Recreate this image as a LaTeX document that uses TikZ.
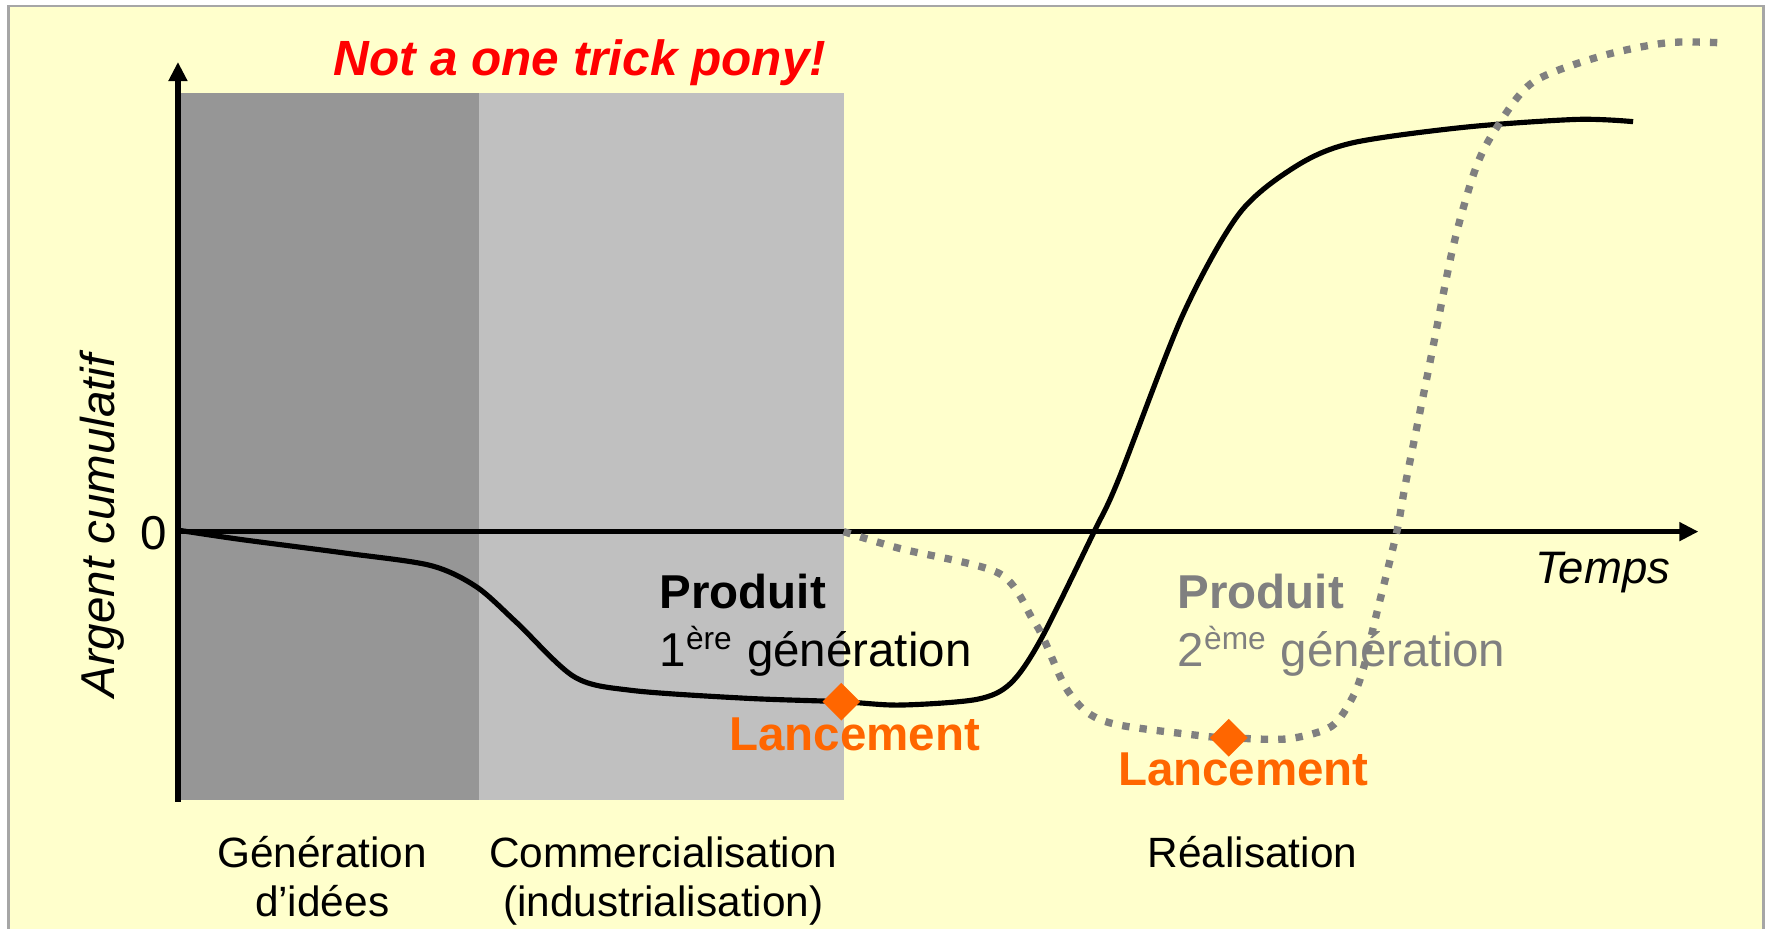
\documentclass[tikz,border=0pt]{standalone}
\usepackage{fontspec}
\setmainfont{Liberation Sans}
\usetikzlibrary{arrows.meta,shapes.geometric,positioning}

\definecolor{paper}{HTML}{FFFFCC}
\definecolor{ideas}{HTML}{969696}
\definecolor{indus}{HTML}{C0C0C0}
\definecolor{launch}{HTML}{FF6600}
\definecolor{second}{HTML}{808080}

\begin{document}
\begin{tikzpicture}[x=0.1mm,y=-0.1mm,
  every node/.style={inner sep=0pt},
  axis/.style={line width=1.35pt,-{Triangle[length=1.7mm,width=1.6mm]}},
  firstgen/.style={line width=1.3pt},
  secondgen/.style={line width=1.85pt,second,dash pattern=on 1.85pt off 2.55pt},
  launchmark/.style={diamond,fill=launch,minimum size=3.4mm},
  launchtext/.style={launch,font=\fontsize{12}{14}\selectfont\bfseries},
  prodtext/.style={font=\fontsize{12}{14}\selectfont\bfseries},
  gentext/.style={font=\fontsize{12}{14}\selectfont},
  phasetext/.style={font=\fontsize{10.7}{12.5}\selectfont}]

\useasboundingbox (0,0) rectangle (1568,824);
\draw[fill=paper,draw=black!35,line width=0.7pt] (7.5,5.3) rectangle (1566,900);

% phases
\fill[ideas] (160,83) rectangle (425,710);
\fill[indus] (425,83) rectangle (749,710);

\node[anchor=base,red,font=\fontsize{12.5}{15}\selectfont\bfseries\itshape] (title) at (515,67) {Not a one trick pony!};

% products
\node[prodtext,anchor=base west] (prod1) at (585,540) {Produit};
\node[gentext,anchor=base west] (gen1) at (585,592) {1\textsuperscript{ère} génération};
\node[prodtext,second,anchor=base west] (prod2) at (1045,540) {Produit};
\node[gentext,second,anchor=base west] (gen2) at (1045,592) {2\textsuperscript{ème} génération};

% first generation
\draw[firstgen] plot[smooth] coordinates {
(160,471) (214,479) (306,491) (382,502) (423,521) (459,553) (510,601)
(561,613) (663,620) (747,623) (799,626) (867,621) (897,607) (924,568)
(971,473) (993,426) (1050,280) (1100,190) (1150,148) (1200,127)
(1300,113) (1400,106) (1450,108)};

% axes
\coordinate (origin) at (158,472);
\coordinate (ybot) at (158,712);
\coordinate (ytop) at (158,55);
\coordinate (xend) at (1508,472);
\draw[axis] (ybot) -- (ytop);
\draw[axis] (origin) -- (xend);

\node[anchor=base,font=\fontsize{12}{14}\selectfont] (zero) at (136.5,488) {0};
\node[anchor=base,rotate=90,font=\fontsize{12}{14}\selectfont\itshape] (money) at (102,467) {Argent cumulatif};
\node[anchor=base,font=\fontsize{11.5}{14}\selectfont\itshape] (time) at (1423,518) {Temps};

% second generation
\draw[secondgen] plot[smooth] coordinates {
(749,472) (799,487) (887,509) (917,550) (927,568) (946,610) (966,633)
(995,644) (1073,654) (1091,655) (1143,656) (1182,645) (1201,619)
(1211,592) (1221,550) (1240,473) (1248,429) (1270,320) (1290,220)
(1310,150) (1329,113) (1361,73) (1421,50) (1480,38) (1528,38)};

% launches
\node[launchmark] (launch1) at (747,623) {};
\node[launchmark] (launch2) at (1091,655) {};
\node[launchtext,anchor=base] (lanc1) at (759,666) {Lancement};
\node[launchtext,anchor=base] (lanc2) at (1104,697) {Lancement};

% phase names
\node[phasetext,anchor=base] (ph1a) at (286,770) {Génération};
\node[phasetext,anchor=base] (ph1b) at (286,814) {d’idées};
\node[phasetext,anchor=base] (ph2a) at (589,770) {Commercialisation};
\node[phasetext,anchor=base] (ph2b) at (589,814) {(industrialisation)};
\node[phasetext,anchor=base] (ph3) at (1112,770) {Réalisation};

\end{tikzpicture}
\end{document}
